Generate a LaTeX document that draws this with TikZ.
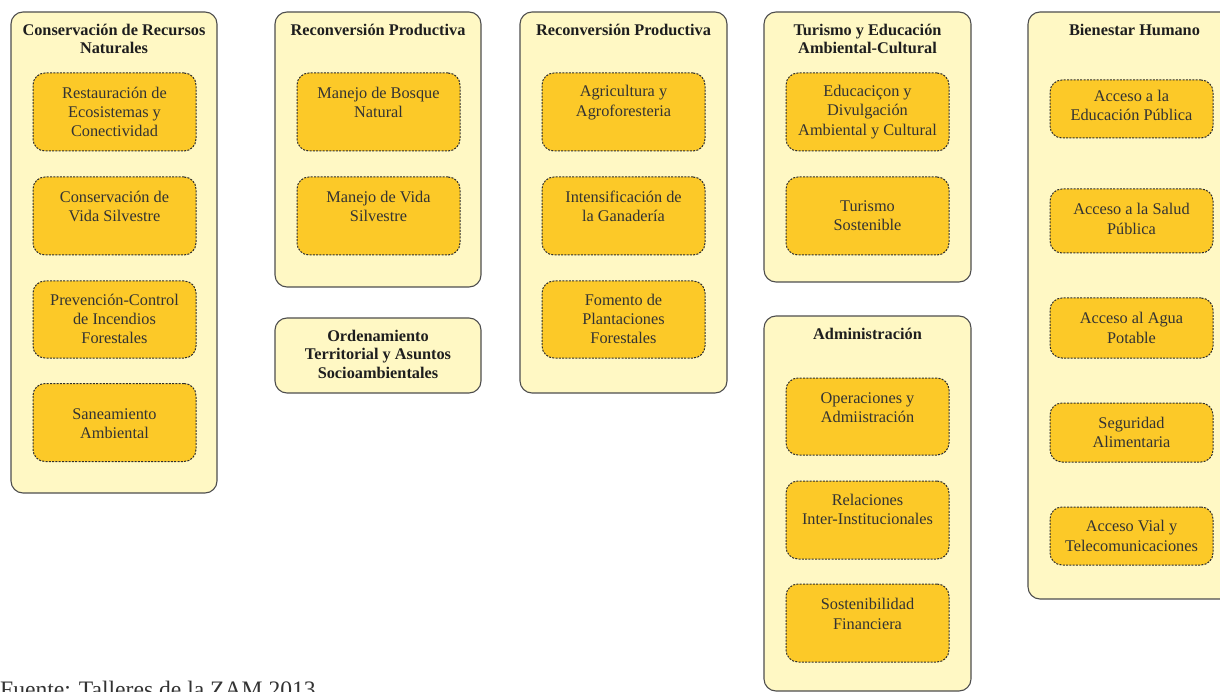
\documentclass[tikz,border=0pt]{standalone}
\usepackage{fontspec}
\setmainfont{Liberation Serif}
\definecolor{outerfill}{HTML}{FFF8C4}
\definecolor{outerline}{HTML}{4E4E4E}
\definecolor{innerfill}{HTML}{FCC928}
\definecolor{innerline}{HTML}{2E2E2E}
\definecolor{titletext}{HTML}{1E1E1E}
\definecolor{bodytext}{HTML}{333333}
\begin{document}
\begin{tikzpicture}[x=1pt,y=-1pt,
  outerbox/.style={draw=outerline, fill=outerfill, line width=1.1pt, rounded corners=12pt, inner sep=0pt},
  innerbox/.style={draw=innerline, fill=innerfill, line width=1pt, dash pattern=on 2pt off 1.3pt, rounded corners=12pt, minimum width=163pt, inner sep=0pt},
  title/.style={font=\fontsize{16.3}{18.5}\selectfont\bfseries, text=titletext, align=center, inner sep=0pt},
  body/.style={font=\fontsize{16.3}{19.3}\selectfont, text=bodytext, align=center, inner sep=0pt},
  foot/.style={font=\fontsize{23.6}{26}\selectfont, text=bodytext, inner sep=0pt, anchor=base west}]
\useasboundingbox (0,0) rectangle (1220,692);
\clip (0,0) rectangle (1220,692);

% Column 1
\node[outerbox, minimum width=206pt, minimum height=481pt] (c1) at (114,252.5) {};
\node[title] (t1) at (114,39) {Conservación de Recursos\\Naturales};
\node[innerbox, minimum height=78pt] (c1a) at (114.5,112) {};
\node[innerbox, minimum height=78pt] (c1b) at (114.5,216) {};
\node[innerbox, minimum height=77pt] (c1c) at (114.5,319.5) {};
\node[innerbox, minimum height=78pt] (c1d) at (114.5,422.5) {};
\node[body] (l1a) at (114.5,112) {Restauración de\\Ecosistemas y\\Conectividad};
\node[body] (l1b) at (114.5,206.5) {Conservación de\\Vida Silvestre};
\node[body] (l1c) at (114.5,319) {Prevención-Control\\de Incendios\\Forestales};
\node[body] (l1d) at (114.5,423.5) {Saneamiento\\Ambiental};

% Column 2
\node[outerbox, minimum width=206pt, minimum height=275pt] (c2) at (378,149.5) {};
\node[title] (t2) at (378,30) {Reconversión Productiva};
\node[innerbox, minimum height=78pt] (c2a) at (378.5,112) {};
\node[innerbox, minimum height=78pt] (c2b) at (378.5,216) {};
\node[body] (l2a) at (378.5,102.5) {Manejo de Bosque\\Natural};
\node[body] (l2b) at (378.5,206.5) {Manejo de Vida\\Silvestre};
\node[outerbox, minimum width=206pt, minimum height=75pt] (c2o) at (378,355.5) {};
\node[title] (t2o) at (378,354) {Ordenamiento\\Territorial y Asuntos\\Socioambientales};

% Column 3
\node[outerbox, minimum width=207pt, minimum height=381pt] (c3) at (623.5,202.5) {};
\node[title] (t3) at (623.5,30) {Reconversión Productiva};
\node[innerbox, minimum height=78pt] (c3a) at (623.5,112) {};
\node[innerbox, minimum height=78pt] (c3b) at (623.5,216) {};
\node[innerbox, minimum height=77pt] (c3c) at (623.5,319.5) {};
\node[body] (l3a) at (623.5,102.5) {Agricultura y\\Agroforesteria};
\node[body] (l3b) at (623.5,206.5) {Intensificación de\\la Ganadería};
\node[body] (l3c) at (623.5,319) {Fomento de\\Plantaciones\\Forestales};

% Column 4 upper
\node[outerbox, minimum width=207pt, minimum height=270pt] (c4) at (867.5,147) {};
\node[title] (t4) at (867.5,39) {Turismo y Educación\\Ambiental-Cultural};
\node[innerbox, minimum height=78pt] (c4a) at (867.5,112) {};
\node[innerbox, minimum height=78pt] (c4b) at (867.5,216) {};
\node[body] (l4a) at (867.5,112) {Educaciçon y\\Divulgación\\Ambiental y Cultural};
\node[body] (l4b) at (867.5,216) {Turismo\\Sostenible};

% Column 4 lower
\node[outerbox, minimum width=207pt, minimum height=375pt] (c4l) at (867.5,503.5) {};
\node[title] (t4l) at (867.5,334) {Administración};
\node[innerbox, minimum height=77pt] (c4la) at (867.5,416.5) {};
\node[innerbox, minimum height=78pt] (c4lb) at (867.5,520) {};
\node[innerbox, minimum height=78pt] (c4lc) at (867.5,623) {};
\node[body] (l4la) at (867.5,407.5) {Operaciones y\\Admiistración};
\node[body] (l4lb) at (867.5,509.5) {Relaciones\\Inter-Institucionales};
\node[body] (l4lc) at (867.5,614) {Sostenibilidad\\Financiera};

% Column 5
\node[outerbox, minimum width=213pt, minimum height=587pt] (c5) at (1134.5,305.5) {};
\node[title] (t5) at (1134.5,30) {Bienestar Humano};
\node[innerbox, minimum height=58pt] (c5a) at (1131.5,109) {};
\node[innerbox, minimum height=64pt] (c5b) at (1131.5,221) {};
\node[innerbox, minimum height=60pt] (c5c) at (1131.5,328) {};
\node[innerbox, minimum height=59pt] (c5d) at (1131.5,432.5) {};
\node[innerbox, minimum height=58pt] (c5e) at (1131.5,536) {};
\node[body] (l5a) at (1131.5,105.5) {Acceso a la\\Educación Pública};
\node[body] (l5b) at (1131.5,219) {Acceso a la Salud\\Pública};
\node[body] (l5c) at (1131.5,328) {Acceso al Agua\\Potable};
\node[body] (l5d) at (1131.5,432.5) {Seguridad\\Alimentaria};
\node[body] (l5e) at (1131.5,536) {Acceso Vial y\\Telecomunicaciones};

% Footer
\node[foot] (src) at (0,697) {Fuente: Talleres de la ZAM 2013};
\end{tikzpicture}
\end{document}
